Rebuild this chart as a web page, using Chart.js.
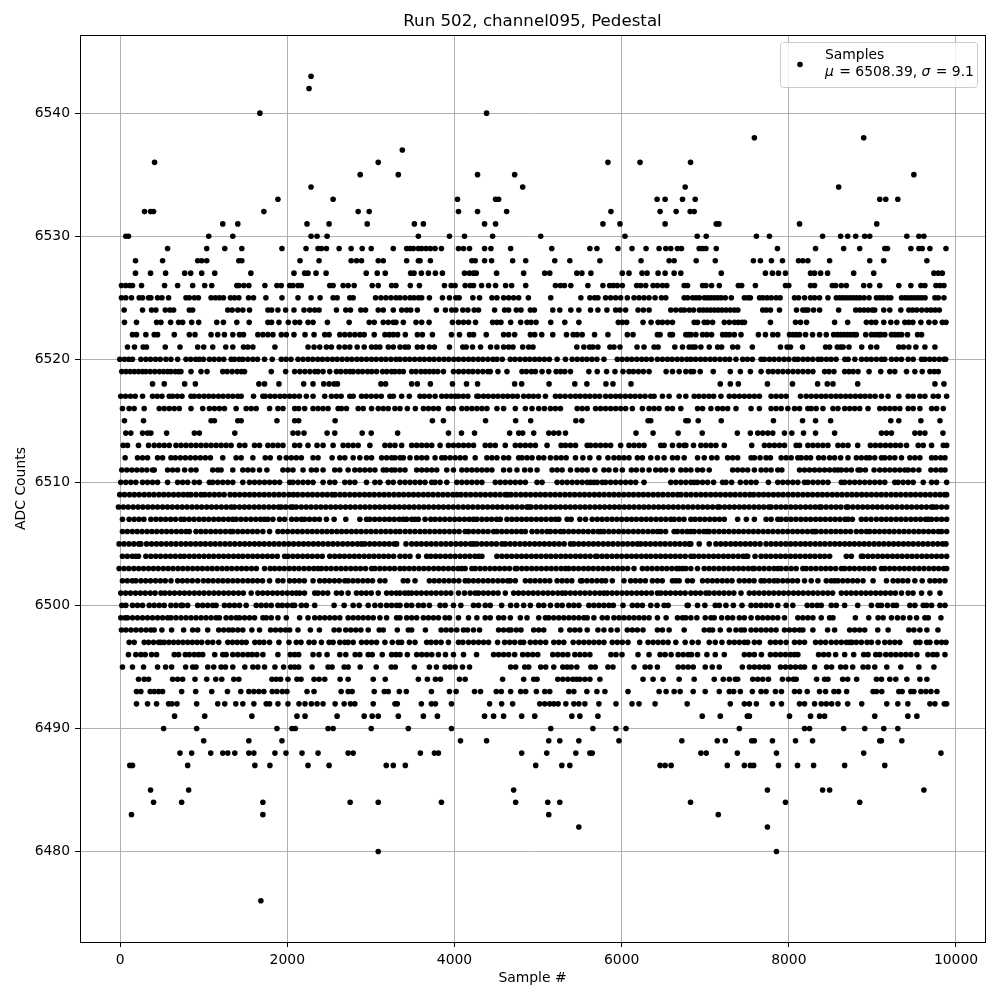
<!DOCTYPE html>
<html lang="en">
<head>
<meta charset="UTF-8">
<title>Run 502, channel095, Pedestal</title>
<script src="https://cdn.jsdelivr.net/npm/chart.js@4/dist/chart.umd.min.js"></script>
<style>html,body{margin:0;padding:0;background:#fff}</style>
</head>
<body>
<canvas id="c" width="1000" height="1000"></canvas>
<script>
// sample numbers, one list per ADC level
const s6543=[2284];
const s6542=[2260];
const s6540=[1672,4384];
const s6538=[7588,8896];
const s6537=[3376];
const s6536=[412,3088,5836,6220,6824];
const s6535=[2872,3328,4276,4720,9496];
const s6534=[2284,4816,6760,8596];
const s6533=[1888,2548,4036,4492,4528,6424,6520,6728,6880,9088,9160,9304];
const s6532=[292,364,400,1720,2848,2980,4048,4276,4624,5872,6460,6652,6820,6868];
const s6531=[1228,1408,2236,2500,2956,3520,3628,4360,4492,5776,5980,6520,7132,7164,8128,9052];
const s6530=[68,100,1060,1348,2284,2356,2476,3568,3940,4120,4456,5032,6040,6904,7012,7612,7768,8404,8620,8704,8800,8908,8968,9412,9556,9616];
const s6529=[568,1036,1252,1456,1936,2224,2368,2408,2468,2620,2764,2896,3004,3268,3428,3468,3508,3568,3608,3660,3712,3768,3844,4048,4108,4180,4360,4436,4672,5164,5620,5704,5956,6124,6292,6448,6528,6588,6668,6716,6928,6968,7008,7132,7864,8320,8656,8848,9148,9180,9460,9556,9596,9688,9880];
const s6528=[184,508,928,976,1036,1420,1456,2152,2380,2764,2828,2888,3088,3148,3428,3568,3588,3712,4208,4248,4360,4444,4696,4852,5200,5380,5740,6232,6568,6628,6892,7120,7576,7660,7792,7924,8116,8168,8228,8488,8968,9136,9652];
const s6527=[184,364,544,772,844,976,1132,1564,2080,2208,2248,2344,2464,2944,3076,3172,3476,3516,3604,3688,3772,3856,4120,4180,4228,4260,4504,4828,5080,5140,5464,5524,5632,6008,6088,6244,6304,6436,6520,6628,6708,7192,7720,7804,7876,7960,8260,8308,8380,8464,8776,9016,9736,9788,9836];
const s6526=[16,68,116,148,256,532,688,868,1012,1096,1396,1420,1480,1540,1732,1876,1928,2028,2068,2128,2168,2508,2548,2668,2728,2800,3016,3088,3248,3300,3472,3580,3880,3960,4008,4128,4188,4228,4324,4408,4492,4612,4684,4852,5208,5268,5316,5392,5596,5776,5856,5900,5948,6008,6180,6228,6288,6376,6428,6488,6540,6748,6788,6968,7008,7076,7168,7396,7436,7600,7960,8000,8260,8308,8520,8560,8628,8688,8896,8968,9088,9316,9460,9580,9628,9760,9808,9856];
const s6525=[16,68,136,228,268,340,368,448,500,580,788,828,888,936,1088,1140,1188,1236,1320,1368,1420,1536,1596,1744,1936,2128,2284,2392,2548,2596,2748,2788,3056,3120,3180,3240,3300,3348,3408,3468,3516,3568,3608,3700,3856,3940,4016,4056,4220,4300,4448,4508,4588,4648,4708,4768,4884,5152,5512,5620,5676,5716,5808,5868,5928,5988,6068,6148,6208,6268,6328,6400,6476,6528,6748,6790,6850,6890,6930,6990,7030,7070,7110,7150,7190,7240,7312,7468,7510,7540,7650,7690,7740,7790,7848,7896,8068,8116,8188,8260,8308,8368,8468,8568,8610,8650,8690,8730,8770,8810,8850,8900,8960,9048,9090,9130,9180,9220,9348,9390,9430,9470,9510,9550,9590,9630,9748,9788,9856];
const s6524=[48,268,376,428,540,596,640,828,868,1288,1340,1408,1468,1548,1768,1812,1888,1980,2080,2200,2268,2328,2380,2588,2700,2756,2880,2936,3088,3148,3268,3368,3428,3476,3556,3784,3892,3968,4016,4100,4160,4236,4288,4480,4600,4648,4740,4796,4908,4956,5176,5260,5392,5488,5628,5716,5824,5928,5980,6048,6196,6260,6328,6588,6648,6708,6750,6810,6860,6930,6975,7020,7065,7110,7155,7200,7250,7300,7350,7390,7688,7730,7780,7888,8092,8168,8200,8228,8296,8368,8596,8800,8850,8900,8950,9000,9028,9136,9208,9340,9436,9480,9530,9590,9650,9700,9750,9800];
const s6523=[52,196,436,488,604,700,748,856,940,1156,1236,1396,1544,1768,1812,1900,2012,2092,2148,2248,2308,2480,2740,2980,3040,3148,3208,3268,3300,3388,3540,3608,3696,3976,4048,4108,4168,4252,4456,4508,4556,4672,4792,4868,4916,4976,5152,5320,5488,5960,6008,6060,6256,6352,6436,6488,6548,6608,6868,6908,6988,7028,7088,7228,7288,7350,7395,7440,7470,7780,8080,8140,8212,8548,8704,8928,8988,9040,9136,9220,9292,9388,9436,9484,9580,9676,9748,9836,9880];
const s6522=[148,196,308,408,448,648,828,896,1088,1168,1248,1348,1428,1476,1648,1708,1768,1828,1928,1988,2080,2212,2320,2448,2500,2628,2688,2748,2808,2868,2920,3040,3168,3220,3268,3320,3412,3556,3616,3736,3964,4060,4180,4228,4380,4588,4648,4720,4908,4960,5044,5176,5340,5420,5468,5528,5676,5836,6068,6136,6428,6460,6580,6608,6768,6800,6830,6888,6968,7020,7076,7208,7250,7290,7348,7428,7636,7720,7808,7868,8008,8050,8090,8128,8200,8284,8368,8448,8536,8580,8620,8660,8700,8740,8780,8808,8920,8988,9030,9070,9100,9148,9228,9270,9310,9350,9420,9540,9588];
const s6521=[88,172,276,316,540,716,928,1000,1108,1264,1348,1476,1528,1588,1852,2248,2320,2388,2468,2528,2620,2688,2748,2836,2920,3008,3060,3108,3208,3268,3348,3408,3448,3556,3616,3700,3760,3940,4100,4140,4216,4312,4432,4508,4588,4648,4700,4816,4888,4940,5464,5548,5616,5656,5716,5860,5908,5980,6184,6268,6388,6436,6636,6728,6808,6848,6880,6948,7048,7148,7196,7328,7388,7564,7900,7980,8020,8164,8440,8488,8580,8620,8650,8720,8872,8980,9052,9316,9370,9436,9520,9628,9748];
const s6520=[-4,52,104,148,248,308,364,424,480,548,608,688,788,844,904,948,996,1068,1124,1184,1240,1328,1368,1424,1468,1528,1588,1644,1728,1820,1928,1984,2044,2128,2188,2248,2304,2364,2420,2480,2540,2596,2656,2716,2772,2832,2888,2948,3008,3064,3124,3180,3240,3300,3348,3408,3464,3524,3584,3640,3700,3756,3816,3876,3932,3992,4048,4108,4168,4224,4284,4340,4400,4460,4508,4572,4668,4724,4784,4844,4900,4960,5016,5076,5136,5228,5328,5408,5468,5528,5584,5644,5704,5788,5948,6004,6064,6120,6180,6240,6296,6356,6428,6488,6548,6604,6664,6720,6780,6828,6884,6944,7000,7060,7116,7176,7236,7292,7368,7448,7504,7564,7668,7708,7768,7824,7884,7944,8000,8068,8110,8170,8226,8286,8350,8390,8450,8506,8566,8670,8710,8790,8870,8930,8986,9048,9108,9148,9228,9288,9348,9428,9488,9588,9628,9684,9740,9800,9856,9876];
const s6519=[20,70,120,170,220,268,308,360,415,470,520,568,608,660,700,728,848,968,1040,1228,1280,1340,1400,1450,1488,1808,1980,2088,2150,2210,2270,2330,2368,2428,2508,2588,2640,2700,2750,2788,2848,2900,2960,3010,3068,3140,3190,3248,3288,3340,3388,3488,3540,3600,3650,3700,3750,3800,3868,3988,4050,4108,4168,4220,4280,4340,4400,4428,4520,4628,4808,4860,4920,4968,5048,5128,5216,5270,5320,5388,5608,5708,5820,5920,6016,6088,6140,6200,6260,6328,6532,6608,6688,6768,6828,6860,6940,7096,7300,7420,7540,7668,7756,7810,7870,7930,7990,8050,8110,8170,8230,8288,8428,8480,8540,8668,8720,8770,8828,8960,9100,9208,9268,9408,9508,9596,9688,9740,9788];
const s6518=[388,528,772,900,1660,1728,1900,2196,2308,2436,2500,2560,2600,3120,3176,3488,3556,3712,3976,4144,4276,4720,4804,5132,5440,5584,5812,5896,6112,7180,7300,7396,7744,8044,8344,8460,8528,8824,9748,9856];
const s6517=[8,64,124,180,268,388,444,500,588,628,684,740,848,888,944,1004,1060,1116,1176,1232,1292,1348,1408,1448,1596,1708,1736,1796,1852,1912,1968,2028,2084,2144,2228,2308,2448,2528,2588,2644,2748,2788,2888,2944,3004,3064,3124,3228,3268,3368,3460,3588,3640,3700,3768,3848,3904,3960,4008,4048,4104,4160,4268,4288,4348,4404,4464,4520,4580,4636,4696,4752,4828,4888,4944,5004,5088,5208,5264,5324,5388,5448,5504,5564,5620,5680,5736,5808,5868,5928,5984,6044,6104,6160,6220,6280,6348,6388,6488,6568,6688,6768,6868,6924,6984,7044,7100,7188,7288,7348,7408,7468,7528,7588,7648,7788,7848,7908,7968,8140,8208,8268,8328,8388,8444,8504,8564,8620,8680,8736,8796,8856,8912,8972,9032,9108,9188,9316,9428,9488,9568,9628,9728,9788,9888];
const s6516=[28,108,168,288,468,528,588,648,708,848,988,1068,1128,1188,1248,1388,1508,1568,1628,1788,1888,1948,2088,2136,2208,2308,2368,2428,2488,2608,2648,2708,2848,2908,3008,3088,3148,3208,3288,3348,3436,3532,3628,3688,3748,3808,3928,3988,4088,4148,4208,4268,4328,4388,4508,4588,4728,4848,4928,5008,5076,5148,5208,5268,5468,5528,5588,5688,5748,5808,5868,5928,5988,6048,6128,6248,6328,6388,6448,6548,6608,6708,6908,6968,7068,7148,7208,7268,7368,7548,7648,7788,7848,7908,7988,8068,8128,8228,8268,8328,8408,8528,8588,8668,8728,8788,8848,8948,9088,9148,9208,9268,9328,9428,9488,9568,9708,9768,9848];
const s6515=[52,280,1088,1128,1408,1448,1876,2088,2136,2572,3736,3868,4372,4732,4912,5452,5524,6316,6348,6768,6796,6916,7192,7816,8164,8320,8500,9220,9316,9580,9808];
const s6514=[68,128,268,328,368,556,888,948,1372,2068,2128,2200,2476,2568,2896,3004,3320,3928,4084,4240,4660,4768,4816,4948,5128,5188,5248,5328,6172,6376,6676,6964,7384,7540,7628,7688,7748,7808,7948,8036,8176,8320,8548,9108,9168,9228,9508,9568,9628,9844];
const s6513=[36,88,220,340,408,468,528,588,668,728,788,848,908,968,1028,1088,1148,1208,1268,1328,1428,1492,1608,1668,1768,1828,1888,1948,2088,2148,2248,2356,2428,2548,2668,2728,2788,2848,2988,3168,3228,3288,3368,3488,3548,3608,3668,3728,3828,3928,3988,4048,4108,4168,4228,4368,4428,4488,4608,4728,4788,4848,4908,4968,5108,5276,5328,5388,5448,5588,5628,5688,5748,5808,5868,5988,6088,6148,6208,6268,6468,6508,6608,6688,6748,6768,6860,6948,7008,7068,7128,7228,7556,7708,7768,7828,7888,7948,8088,8128,8228,8288,8348,8408,8468,8588,8648,8708,8824,8976,9036,9096,9156,9216,9276,9336,9408,9548,9608,9708,9848,9888];
const s6512=[60,208,268,328,448,508,608,660,720,780,840,900,960,1020,1080,1228,1388,1448,1588,1736,1796,1908,1988,2048,2108,2168,2308,2368,2536,2628,2688,2788,2868,2948,3008,3128,3188,3248,3288,3348,3388,3468,3548,3608,3668,3768,3848,3888,3948,4008,4068,4128,4248,4388,4448,4508,4588,4648,4768,4808,4868,4928,5008,5068,5148,5216,5276,5336,5448,5536,5620,5728,5836,5908,5968,6028,6088,6188,6248,6348,6428,6508,6608,6668,6748,6908,6988,7076,7140,7268,7328,7388,7548,7588,7656,7728,7780,7908,7968,8028,8108,8148,8208,8260,8356,8416,8488,8548,8620,8708,8808,8868,8928,8968,9028,9108,9148,9208,9268,9348,9448,9508,9568,9708,9756,9816,9868];
const s6511=[20,80,140,200,260,320,388,408,568,628,688,772,848,908,1108,1168,1208,1348,1468,1528,1588,1668,1756,1948,2008,2068,2188,2288,2348,2428,2568,2628,2728,2808,2868,2928,2988,3048,3148,3188,3248,3288,3348,3408,3548,3608,3668,3728,3788,3908,3988,4088,4148,4208,4268,4328,4388,4448,4588,4660,4748,4840,4908,4988,5168,5228,5288,5388,5468,5528,5588,5680,5788,5848,5928,6008,6116,6176,6248,6328,6408,6468,6528,6608,6708,6768,6828,6908,6968,7048,7328,7388,7448,7508,7588,7668,7728,7788,7868,7916,8128,8188,8248,8308,8368,8428,8488,8548,8588,8628,8688,8748,8828,8856,8916,9020,9088,9148,9208,9268,9328,9388,9428,9488,9556,9700,9760,9820,9868];
const s6510=[8,68,128,188,268,328,388,448,568,688,748,808,888,948,1068,1108,1168,1228,1288,1348,1468,1548,1608,1668,1728,1788,1848,1908,2028,2068,2128,2188,2248,2308,2428,2508,2568,2688,2748,2808,2948,3048,3108,3208,3268,3348,3408,3468,3528,3588,3648,3728,3768,3828,3908,4028,4088,4148,4208,4268,4328,4488,4548,4608,4668,4728,4788,4848,4988,5048,5228,5288,5348,5408,5468,5528,5588,5628,5668,5708,5768,5808,5868,5928,5988,6048,6108,6168,6268,6588,6648,6708,6768,6828,6868,6908,6968,7028,7100,7208,7248,7316,7420,7488,7548,7608,7756,7868,7928,7988,8048,8108,8188,8228,8288,8348,8408,8468,8628,8668,8728,8788,8848,8908,8968,9028,9088,9148,9268,9308,9368,9428,9488,9608,9708,9768,9888];
const s6509=[-4,52,112,170,228,288,346,404,464,522,580,640,698,756,808,848,908,968,1012,1068,1128,1186,1244,1316,1372,1430,1490,1548,1606,1666,1724,1782,1842,1900,1958,2020,2072,2124,2184,2244,2302,2360,2420,2478,2536,2572,2632,2688,2748,2806,2864,2924,2982,3040,3100,3158,3216,3276,3334,3392,3452,3510,3568,3628,3686,3744,3804,3862,3920,3980,4030,4078,4136,4194,4254,4312,4370,4430,4488,4546,4606,4634,4676,4734,4794,4852,4910,4970,5028,5086,5146,5204,5262,5322,5380,5438,5498,5556,5614,5674,5732,5790,5850,5908,5966,6026,6084,6142,6202,6260,6318,6378,6436,6494,6554,6612,6670,6710,6772,6830,6890,6948,7006,7066,7124,7182,7242,7300,7358,7418,7476,7534,7580,7640,7698,7756,7816,7874,7932,7992,8050,8108,8168,8226,8284,8344,8402,8460,8520,8578,8636,8696,8754,8812,8872,8930,8988,9048,9106,9164,9224,9282,9340,9400,9458,9516,9576,9634,9692,9752,9810,9864,9888];
const s6508=[-20,38,96,156,214,272,332,390,448,508,566,624,684,742,800,860,918,976,1036,1094,1152,1212,1270,1328,1368,1428,1486,1544,1604,1662,1720,1780,1838,1896,1928,1980,2040,2068,2108,2168,2226,2284,2344,2402,2460,2520,2578,2636,2696,2754,2812,2872,2930,2988,3048,3106,3164,3224,3282,3340,3400,3458,3516,3576,3634,3692,3752,3810,3868,3928,3986,4044,4104,4162,4220,4280,4338,4396,4456,4514,4572,4632,4690,4748,4808,4866,4888,4916,4976,5034,5092,5152,5210,5268,5328,5386,5444,5504,5562,5620,5680,5738,5796,5856,5914,5972,6032,6090,6148,6208,6266,6324,6384,6442,6500,6560,6618,6676,6736,6794,6852,6912,6970,7028,7088,7148,7172,7232,7290,7348,7408,7466,7524,7584,7642,7700,7760,7788,7848,7906,7964,8024,8082,8140,8200,8258,8316,8368,8388,8446,8506,8564,8622,8688,8708,8766,8826,8884,8942,9002,9060,9118,9178,9236,9294,9354,9412,9470,9530,9588,9646,9706,9728,9768,9828,9888];
const s6507=[28,108,168,226,284,368,428,486,544,604,662,728,768,826,884,944,1002,1060,1120,1178,1236,1296,1348,1388,1446,1504,1564,1622,1680,1728,1768,1828,1908,1968,2052,2110,2168,2208,2266,2326,2384,2468,2560,2700,2868,2948,2988,3046,3104,3164,3222,3280,3340,3388,3428,3488,3528,3568,3648,3716,3768,3826,3884,3944,4002,4060,4120,4178,4228,4268,4328,4386,4444,4504,4548,4628,4686,4744,4804,4862,4920,4980,5038,5096,5156,5208,5248,5348,5396,5500,5568,5648,5708,5766,5824,5884,5942,6000,6060,6118,6176,6236,6294,6352,6412,6470,6528,6588,6628,6688,6746,6828,6878,6936,6994,7054,7112,7170,7228,7388,7492,7588,7728,7788,7868,7908,7968,8026,8084,8144,8202,8260,8320,8378,8436,8496,8554,8612,8672,8708,8760,8868,8924,8984,9048,9108,9166,9224,9284,9342,9400,9460,9518,9576,9636,9668,9708,9768,9828,9888];
const s6506=[28,86,146,204,262,322,380,438,498,556,614,674,732,788,828,908,966,1024,1084,1142,1200,1260,1318,1348,1408,1466,1524,1584,1642,1708,1788,1888,1946,2004,2064,2122,2180,2240,2298,2356,2416,2474,2532,2592,2650,2708,2768,2826,2884,2944,3002,3060,3120,3178,3236,3296,3348,3410,3468,3528,3588,3646,3704,3764,3822,3880,3940,3998,4056,4128,4168,4226,4284,4344,4402,4468,4508,4566,4624,4684,4742,4800,4848,4928,4988,5048,5108,5148,5208,5268,5308,5366,5424,5484,5542,5600,5660,5718,5748,5788,5846,5904,5964,6022,6080,6140,6198,6256,6316,6374,6428,6468,6526,6628,6668,6726,6784,6828,6868,6928,6984,7020,7048,7106,7166,7224,7282,7342,7400,7458,7518,7576,7634,7694,7752,7810,7870,7928,7986,8046,8104,8162,8222,8280,8308,8328,8386,8444,8504,8562,8620,8680,8738,8808,8868,8928,8968,9026,9084,9144,9202,9260,9320,9378,9436,9496,9554,9612,9672,9730,9788,9828,9888];
const s6505=[-12,46,106,164,222,248,316,376,434,492,552,610,668,728,786,844,904,962,1020,1080,1138,1196,1256,1314,1372,1432,1490,1548,1608,1666,1724,1784,1842,1900,1960,2018,2076,2136,2194,2252,2312,2370,2428,2488,2546,2604,2664,2722,2780,2840,2888,2928,2986,3044,3104,3162,3220,3280,3308,3420,3488,3546,3604,3664,3722,3780,3840,3898,3956,4016,4074,4132,4192,4228,4268,4326,4384,4444,4502,4568,4608,4666,4724,4784,4842,4900,4960,5018,5076,5136,5194,5252,5312,5388,5428,5486,5544,5604,5662,5720,5780,5838,5896,5956,6014,6072,6132,6188,6228,6286,6344,6404,6462,6520,6580,6638,6696,6756,6808,6828,6928,7048,7128,7186,7244,7304,7362,7420,7480,7538,7596,7656,7728,7788,7846,7904,7964,8022,8080,8140,8198,8256,8316,8374,8432,8492,8550,8608,8668,8726,8784,8844,8902,8960,9020,9078,9136,9196,9254,9312,9372,9430,9488,9548,9606,9664,9724,9782,9840,9880];
const s6504=[28,86,146,188,220,308,368,426,484,544,602,660,720,768,828,886,944,1004,1062,1120,1180,1238,1296,1356,1414,1468,1528,1586,1644,1704,1762,1820,1880,1968,2008,2066,2124,2184,2242,2300,2360,2418,2508,2568,2626,2684,2744,2802,2860,2920,2978,3036,3096,3154,3212,3272,3348,3408,3468,3568,3668,3716,3774,3832,3892,3950,4008,4068,4126,4184,4244,4288,4328,4508,4568,4626,4684,4744,4802,4860,4920,4978,5036,5096,5154,5212,5272,5330,5388,5448,5506,5564,5624,5688,5708,5766,5824,5884,5942,6000,6060,6118,6176,6236,6294,6348,6408,6466,6524,6584,6642,6700,6760,6828,6866,6924,6982,7042,7100,7158,7218,7276,7334,7394,7452,7488,7508,7596,7668,7726,7784,7844,7902,7960,8020,8078,8136,8196,8254,8312,8372,8428,8488,8688,8748,8868,8888,8946,9004,9064,9122,9180,9240,9298,9356,9416,9474,9532,9592,9650,9708,9768,9826,9888];
const s6503=[-12,46,104,164,222,280,340,398,456,516,574,632,692,750,808,868,926,984,1044,1102,1160,1220,1278,1336,1396,1454,1512,1572,1630,1728,1796,1848,1906,1964,2024,2082,2140,2200,2258,2316,2368,2408,2466,2524,2584,2642,2700,2760,2818,2876,2936,3008,3048,3106,3164,3224,3282,3348,3400,3458,3516,3576,3634,3692,3752,3810,3868,3928,3986,4044,4088,4128,4208,4248,4306,4364,4424,4482,4540,4600,4658,4728,4748,4806,4864,4924,4982,5040,5100,5158,5216,5276,5328,5368,5426,5484,5544,5602,5660,5720,5778,5836,5896,5954,6012,6072,6148,6248,6306,6364,6424,6482,6540,6600,6658,6688,6728,6768,6828,6908,6988,7046,7104,7164,7222,7280,7340,7398,7456,7516,7568,7588,7646,7704,7764,7822,7868,7908,7968,8028,8088,8168,8208,8266,8324,8384,8442,8500,8560,8628,8668,8726,8784,8844,8902,8960,9020,9108,9148,9206,9264,9324,9382,9440,9500,9558,9616,9676,9734,9792,9852,9888];
const s6502=[28,86,146,188,248,306,364,424,482,540,608,688,746,804,864,928,996,1054,1112,1172,1230,1288,1348,1406,1468,1528,1586,1644,1704,1788,1888,1948,2028,2086,2144,2204,2308,2388,2446,2504,2564,2622,2688,2728,2786,2844,2904,2962,3020,3108,3168,3388,3440,3528,3700,3758,3816,3876,3934,3992,4052,4128,4168,4226,4284,4344,4402,4460,4520,4578,4636,4668,4728,4848,4906,4964,5024,5082,5140,5228,5288,5346,5404,5508,5528,5586,5644,5704,5762,5808,5888,6028,6108,6166,6224,6284,6368,6428,6486,6608,6648,6688,6788,6846,6968,7028,7086,7144,7204,7262,7320,7408,7468,7526,7584,7668,7708,7766,7824,7868,7928,7986,8044,8104,8188,8268,8348,8448,8506,8548,8588,8646,8704,8764,8822,8888,9008,9168,9248,9306,9364,9424,9508,9596,9688,9746,9804,9868];
const s6501=[8,66,124,184,242,300,360,418,488,536,594,652,712,770,828,888,946,1004,1064,1122,1180,1240,1298,1356,1416,1474,1568,1648,1706,1764,1824,1882,1940,2000,2058,2108,2148,2206,2328,2368,2426,2484,2588,2648,2728,2828,2886,2944,3004,3088,3188,3246,3304,3348,3406,3448,3488,3546,3604,3664,3722,3780,3840,3898,3956,4048,4120,4188,4248,4288,4346,4404,4464,4522,4608,4708,4766,4824,4884,4942,5000,5060,5118,5176,5236,5288,5328,5386,5444,5504,5562,5620,5680,5738,5788,5828,5886,5944,6004,6062,6120,6180,6238,6296,6356,6428,6468,6526,6584,6644,6702,6760,6828,6884,6942,7008,7048,7108,7166,7224,7284,7342,7428,7528,7586,7644,7704,7762,7820,7880,7938,7996,8056,8114,8172,8232,8290,8348,8408,8466,8524,8628,8688,8746,8804,8864,8922,8980,9040,9098,9156,9216,9274,9348,9428,9486,9588,9688,9808];
const s6500=[20,68,148,208,268,348,408,468,528,608,668,728,748,808,928,988,1048,1108,1148,1248,1308,1368,1428,1508,1628,1688,1748,1808,1888,1940,2000,2060,2088,2168,2228,2328,2560,2680,2788,2860,2968,3048,3116,3188,3248,3308,3348,3428,3488,3568,3628,3700,3828,3888,3988,4076,4228,4288,4368,4428,4564,4672,4744,4828,4908,5008,5068,5148,5228,5288,5368,5428,5488,5608,5668,5728,5788,5848,5900,6016,6128,6188,6248,6348,6424,6508,6556,6784,6796,6908,6996,7120,7168,7248,7336,7440,7548,7608,7668,7728,7788,7868,7968,8048,8220,8280,8340,8388,8508,8568,8668,8824,8988,9068,9108,9180,9248,9288,9448,9508,9608,9648,9708,9808,9868];
const s6499=[8,60,88,148,208,268,328,388,448,508,568,608,668,728,788,848,908,968,1028,1088,1148,1188,1268,1328,1388,1428,1488,1548,1608,1708,1748,1808,1888,1988,2148,2248,2328,2388,2448,2508,2568,2628,2728,2788,2848,2908,2968,3028,3108,3188,3308,3348,3428,3488,3548,3628,3688,3748,3808,3888,3940,4048,4168,4268,4368,4428,4528,4588,4668,4788,4868,5008,5088,5128,5188,5248,5308,5368,5428,5488,5548,5588,5668,5768,5828,5908,5968,6028,6088,6148,6208,6268,6328,6428,6532,6668,6728,6768,6828,6900,7000,7068,7108,7196,7268,7328,7408,7468,7548,7628,7688,7748,7808,7868,7948,8108,8168,8228,8288,8388,8488,8528,8796,8956,9068,9128,9228,9300,9368,9448,9528,9628,9668,9820];
const s6498=[16,70,130,190,250,310,368,408,500,616,760,868,928,1048,1180,1240,1300,1348,1408,1468,1576,1668,1800,1860,1920,1980,2028,2128,2276,2384,2560,2620,2700,2760,2820,2880,2968,3100,3148,3316,3448,3488,3652,3840,3900,3960,4028,4108,4156,4228,4300,4528,4588,4648,4676,4740,4796,4948,5008,5068,5272,5380,5440,5500,5588,5716,5788,5872,5948,6068,6128,6188,6256,6428,6488,6568,6748,6988,7048,7088,7180,7288,7368,7428,7468,7548,7608,7668,7728,7788,7848,7948,8008,8068,8128,8168,8288,8464,8548,8728,8788,8848,8908,9064,9188,9436,9496,9568,9652,9784];
const s6497=[108,168,288,340,400,460,488,528,584,640,696,752,808,864,920,976,1048,1108,1180,1288,1344,1400,1456,1508,1612,1668,1720,1788,1900,2020,2108,2164,2260,2320,2408,2500,2548,2628,2688,2728,2788,2888,2948,3008,3068,3168,3256,3328,3368,3460,3528,3668,3720,3780,3840,3928,4048,4100,4168,4228,4288,4348,4408,4516,4600,4660,4720,4788,4828,4908,4968,5028,5092,5188,5248,5308,5420,5488,5548,5608,5668,5728,5788,5888,5948,6008,6076,6216,6316,6376,6436,6496,6556,6648,6760,6844,6916,7048,7120,7200,7288,7348,7408,7468,7508,7588,7648,7780,7840,7900,7968,8068,8128,8188,8320,8380,8440,8508,8568,8628,8688,8728,8756,8808,8868,8936,8988,9068,9148,9208,9268,9328,9520,9568,9648,9688,9768,9828,9880];
const s6496=[100,188,248,300,376,436,648,700,780,828,888,940,988,1132,1228,1268,1348,1408,1468,1528,1580,1636,1708,1888,2036,2088,2136,2308,2380,2476,2628,2700,2812,2868,2968,3016,3136,3248,3300,3348,3436,3548,3608,3668,3728,3808,3892,3988,4108,4264,4468,4528,4588,4648,4720,4816,4876,4936,4996,5176,5236,5296,5356,5440,5500,5560,5620,5872,5932,6004,6196,6328,6460,6520,6592,6676,6736,6796,6836,6908,7020,7120,7228,7468,7528,7588,7672,7780,7840,7900,7960,8020,8068,8108,8356,8416,8476,8560,8668,8776,8896,8948,9040,9088,9160,9220,9280,9340,9400,9460,9532,9664,9724,9772,9868];
const s6495=[28,148,280,448,544,616,784,868,908,1048,1120,1208,1260,1348,1492,1588,1648,1728,1852,1956,2040,2088,2136,2296,2488,2536,2680,2728,2872,3064,3244,3292,3520,3700,3784,3888,3948,4008,4096,4180,4672,4732,4840,4888,5032,5092,5188,5296,5348,5396,5464,5632,5684,5836,5896,6148,6280,6340,6428,6676,6736,6796,6856,7000,7084,7168,7444,7528,7588,7648,7708,7756,7900,7960,8020,8080,8140,8188,8308,8452,8512,8620,8680,8764,8888,8948,9028,9172,9340,9556,9736];
const s6494=[220,288,340,628,688,748,896,1036,1144,1216,1360,1420,1816,1868,1920,2008,2116,2164,2320,2380,2448,2632,2728,3028,3172,3568,3676,3772,3832,4060,4128,4576,4828,4948,4988,5236,5296,5356,5416,5460,5500,5560,5620,5740,6256,6376,6496,6688,6868,7108,7216,7288,7360,7388,7568,7628,7688,7756,7924,7996,8056,8088,8332,8428,8468,8644,8704,8812,9048,9108,9208,9280,9412,9568,9652];
const s6493=[196,248,360,408,460,508,736,904,1096,1284,1444,1540,1600,1660,1720,1820,1876,1940,1996,2236,2320,2644,2728,2776,3040,3160,3208,3340,3424,3724,3940,4020,4240,4312,4500,4560,4672,4792,4852,4980,5080,5140,5368,5428,5584,5704,5800,6076,6448,6532,6628,6700,6856,7000,7168,7288,7340,7420,7564,7668,7728,7840,7912,8068,8128,8220,8368,8440,8540,8596,8692,9008,9048,9112,9316,9356,9460,9496,9580,9640,9700,9772];
const s6492=[196,328,436,580,620,680,916,1168,1252,1384,1468,1600,1748,1788,1888,2008,2140,2212,2288,2356,2428,2572,2680,2756,2808,3028,3288,3316,3604,3724,3772,3964,4420,4564,4696,5020,5080,5140,5188,5240,5332,5428,5488,5560,5728,5932,6124,6208,6400,6784,7300,7468,7528,7612,7804,7912,8128,8188,8308,8388,8448,8512,8588,8704,8872,9172,9304,9424,9688,9748,9860,9888];
const s6491=[652,1012,1576,2116,2212,2596,2920,3016,3088,3328,3628,3796,4360,4468,4588,4804,4960,5404,5500,5716,6964,7180,7504,7528,8008,8260,8368,8428,9028,9424,9532];
const s6490=[520,916,1876,2056,2096,2488,2548,3004,3448,3964,5152,5656,5932,6052,7408,8188,8248,8656,8908,9136,9304];
const s6489=[1000,1540,1936,4072,4384,5128,5260,5488,5968,6720,7144,7240,7556,7588,7804,8080,8284,9088,9108,9352];
const s6488=[716,856,1084,1228,1288,1372,1540,1600,1852,1984,2176,2368,2728,2788,3592,3760,3808,4804,5104,5452,5620,5648,6948,7012,7384,7852,8896,9820];
const s6487=[116,148,808,1612,1792,2248,2500,3184,3268,3412,4972,5284,5380,6460,6520,6592,7264,7468,7540,7580,7876,8104,8296,8668,9148];
const s6485=[364,820,4708,7744,8404,8488,9616];
const s6484=[400,736,1708,2752,3088,3844,4732,5116,5260,6824,7960,8848];
const s6483=[136,1708,5128,7156];
const s6482=[5488,7744];
const s6480=[3088,7852];
const s6476=[1684];

// level -> samples
const levels=[6543,6542,6540,6538,6537,6536,6535,6534,6533,6532,6531,6530,6529,6528,6527,6526,6525,6524,6523,6522,6521,6520,6519,6518,6517,6516,6515,6514,6513,6512,6511,6510,6509,6508,6507,6506,6505,6504,6503,6502,6501,6500,6499,6498,6497,6496,6495,6494,6493,6492,6491,6490,6489,6488,6487,6485,6484,6483,6482,6480,6476];
const samples=[s6543,s6542,s6540,s6538,s6537,s6536,s6535,s6534,s6533,s6532,s6531,s6530,s6529,s6528,s6527,s6526,s6525,s6524,s6523,s6522,s6521,s6520,s6519,s6518,s6517,s6516,s6515,s6514,s6513,s6512,s6511,s6510,s6509,s6508,s6507,s6506,s6505,s6504,s6503,s6502,s6501,s6500,s6499,s6498,s6497,s6496,s6495,s6494,s6493,s6492,s6491,s6490,s6489,s6488,s6487,s6485,s6484,s6483,s6482,s6480,s6476];
const xTicks=[0,2000,4000,6000,8000,10000];
const yTicks=[6480,6490,6500,6510,6520,6530,6540];

const points=[];
levels.forEach((lv,i)=>samples[i].forEach(x=>points.push({x:x,y:lv})));

const FONT="'DejaVu Sans'";

// legend box and the spines
const frame={
    id:'frame',
    afterDraw(chart){
        const c=chart.ctx, a=chart.chartArea;
        c.save();
        c.strokeStyle='#000'; c.lineWidth=1;
        c.strokeRect(a.left+0.5,a.top+0.5,a.right-a.left,a.bottom-a.top);
        c.fillStyle='rgba(255,255,255,0.8)';
        c.strokeStyle='#cccccc';
        c.beginPath();
        c.roundRect(780.5,42.5,197,45,3);
        c.fill(); c.stroke();
        c.fillStyle='#000';
        c.beginPath(); c.arc(800,64.5,2.8,0,Math.PI*2); c.fill();
        c.textBaseline='alphabetic';
        c.textAlign='left';
        c.font='13.9px '+FONT;
        c.fillText('Samples',825,59);
        let x=825;
        [['μ',1],[' = 6508.39, ',0],['σ',1],[' = 9.1',0]].forEach(p=>{
            c.font=(p[1]?'italic ':'')+'13.9px '+FONT;
            c.fillText(p[0],x,76);
            x+=c.measureText(p[0]).width+(p[1]?1:0);
        });
        c.restore();
    }
};

new Chart(document.getElementById('c'),{
    type:'scatter',
    data:{datasets:[{label:'Samples',data:points,pointRadius:2.8,pointHoverRadius:2.8,
        pointBackgroundColor:'#000',pointBorderWidth:0,showLine:false}]},
    options:{
        responsive:false,
        animation:false,
        layout:{padding:{right:15}},
        plugins:{
            legend:{display:false},
            tooltip:{enabled:false},
            title:{display:true,fullSize:false,text:'Run 502, channel095, Pedestal',color:'#000',
                font:{family:FONT,size:16.66,weight:'normal'},padding:{top:12,bottom:3}}
        },
        scales:{
            x:{type:'linear',min:-480,max:10347,
                afterBuildTicks(s){s.ticks=xTicks.map(v=>({value:v}));},
                afterFit(s){s.height=58;s.paddingLeft=0;s.paddingRight=0;},
                grid:{color:'#b0b0b0',lineWidth:1,tickColor:'#000',tickLength:5},
                border:{display:false},
                ticks:{autoSkip:false,color:'#000',maxRotation:0,padding:5,
                    font:{family:FONT,size:13.9},callback:v=>String(v)},
                title:{display:true,text:'Sample #',color:'#000',font:{family:FONT,size:13.9},padding:{top:0,bottom:13}}},
            y:{type:'linear',min:6472.65,max:6546.35,
                afterBuildTicks(s){s.ticks=yTicks.map(v=>({value:v}));},
                afterFit(s){s.width=80;s.paddingTop=0;s.paddingBottom=0;},
                grid:{color:'#b0b0b0',lineWidth:1,tickColor:'#000',tickLength:5},
                border:{display:false},
                ticks:{autoSkip:false,color:'#000',padding:5,
                    font:{family:FONT,size:13.9},callback:v=>String(v)},
                title:{display:true,text:'ADC Counts',color:'#000',font:{family:FONT,size:13.9},padding:{top:13,bottom:0}}}
        }
    },
    plugins:[frame]
});
</script>
</body>
</html>
